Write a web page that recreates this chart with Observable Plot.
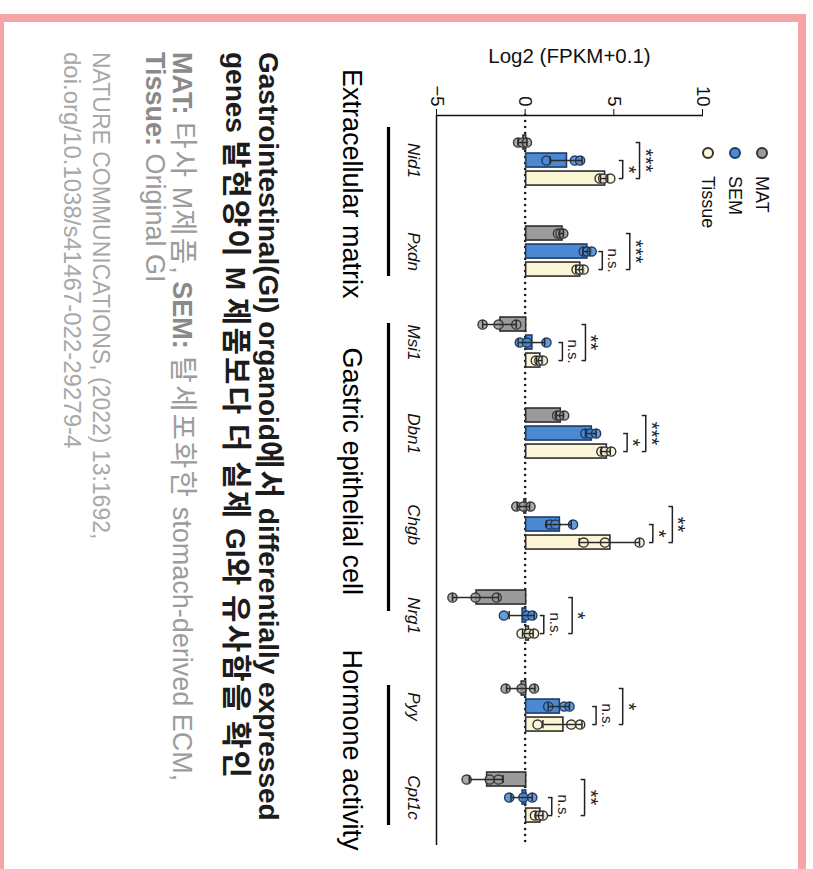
<!DOCTYPE html>
<html>
<head>
<meta charset="utf-8">
<script src="https://cdn.jsdelivr.net/npm/d3@7"></script>
<script src="https://cdn.jsdelivr.net/npm/@observablehq/plot@0.6"></script>
<style>
  html, body { margin: 0; padding: 0; background: #fff; }
  body { width: 813px; height: 869px; overflow: hidden; position: relative;
         font-family: "Liberation Sans", Arial, "Noto Sans CJK KR", sans-serif; }
  #border { position: absolute; left: -4px; top: 14px; width: 810px; height: 920px;
            box-sizing: border-box; border: 8px solid #f6a4a6; }
  #rot { position: absolute; left: 0; top: 0; width: 869px; height: 813px;
         transform-origin: 0 0; transform: translate(813px, 0) rotate(90deg); }
  #chart { position: absolute; left: 0; top: 0; }
  .lg { position: absolute; left: 147px; height: 20px; display: flex; align-items: center;
        font-size: 18px; color: #111; white-space: nowrap; }
  .sw { display: inline-block; width: 12px; height: 12px; border-radius: 50%;
        border: 2px solid #333; box-sizing: border-box; margin-right: 17px; }
  .line { position: absolute; left: 52px; white-space: nowrap; line-height: 1; }
  .t { font-size: 28px; font-weight: bold; color: #1c1c1c; }
  .t .k { font-size: 1.07em; letter-spacing: 2px; }
  .n { font-size: 27px; color: #9c9c9c; }
  .n .k { font-size: 1.07em; letter-spacing: 2px; }
  .n b { color: #8a8a8a; }
  .c { font-size: 23px; color: #a8a8a8; }
  .c2 { font-size: 24px; color: #a8a8a8; }
</style>
</head>
<body>
<div id="border"></div>
<div id="rot">
  <div id="chart"></div>
  <div class="lg" style="top:41px"><span class="sw" style="background:#9b9b9b"></span>MAT</div>
  <div class="lg" style="top:68px"><span class="sw" style="background:#4b89d2;border-color:#1f3b66"></span>SEM</div>
  <div class="lg" style="top:95px"><span class="sw" style="background:#fbf6d6"></span>Tissue</div>
  <div class="line t" style="top:529px">Gastrointestinal(GI) organoid<span class="k">에서</span> differentially expressed</div>
  <div class="line t" style="top:562px">genes <span class="k">발현양이</span> M <span class="k">제품보다</span> <span class="k">더</span> <span class="k">실제</span> GI<span class="k">와</span> <span class="k">유사함을</span> <span class="k">확인</span></div>
  <div class="line n" style="top:616px"><b>MAT:</b> <span class="k">타사</span> M<span class="k">제품</span>, <b>SEM:</b> <span class="k">탈세포화한</span> stomach-derived ECM,</div>
  <div class="line n" style="top:645px"><b>Tissue:</b> Original GI</div>
  <div class="line c" style="top:701px">NATURE COMMUNICATIONS, (2022) 13:1692,</div>
  <div class="line c2" style="top:729px">doi.org/10.1038/s41467-022-29279-4</div>
</div>
<script>
// ---- data ----
const genes = ["Nid1", "Pxdn", "Msi1", "Dbn1", "Chgb", "Nrg1", "Pyy", "Cpt1c"];
const groups = ["MAT", "SEM", "Tissue"];

const matMean = [-0.15, 2.05, -1.45, 1.95, -0.1, -2.8, -0.25, -2.2];
const matErr  = [0.25, 0.1, 0.95, 0.2, 0.35, 1.3, 0.8, 0.95];
const matDots = [[-0.4, -0.15, 0.1], [1.85, 2.0, 2.15], [-2.4, -1.5, -0.5], [1.8, 1.95, 2.2],
                 [-0.5, -0.1, 0.3], [-4.1, -2.8, -1.6], [-1.1, -0.2, 0.5], [-3.3, -2.0, -1.5]];

const semMean = [2.3, 3.45, 0.35, 3.7, 1.9, -0.2, 1.9, -0.2];
const semErr  = [0.9, 0.2, 0.75, 0.3, 0.7, 0.7, 0.6, 0.6];
const semDots = [[1.2, 2.8, 3.1], [3.3, 3.5, 3.75], [-0.3, 0.1, 1.2], [3.4, 3.7, 4.0],
                 [1.4, 1.7, 2.7], [-1.2, 0.1, 0.4], [1.3, 2.2, 2.5], [-0.9, -0.1, 0.4]];

const tisMean = [4.45, 3.05, 0.8, 4.55, 4.75, 0.15, 2.1, 0.8];
const tisErr  = [0.2, 0.2, 0.15, 0.25, 1.7, 0.3, 1.1, 0.2];
const tisDots = [[4.2, 4.4, 4.8], [2.9, 3.1, 3.3], [0.6, 0.8, 1.0], [4.3, 4.5, 4.85],
                 [3.3, 4.5, 6.45], [-0.2, 0.2, 0.5], [0.7, 2.6, 3.1], [0.55, 0.8, 1.0]];

// significance: inner = SEM vs Tissue, outer = MAT vs Tissue
const innerLabels = ["*", "n.s.", "n.s.", "*", "*", "n.s.", "n.s.", "n.s."];
const innerY      = [5.5, 4.35, 2.1, 5.75, 7.2, 1.05, 4.0, 1.5];
const outerLabels = ["***", "***", "**", "***", "**", "*", "*", "**"];
const outerY      = [6.45, 5.9, 3.4, 6.8, 8.3, 2.65, 5.5, 3.35];

const categoryNames = ["Extracellular matrix", "Gastric epithelial cell", "Hormone activity"];
const categoryGenes = [["Nid1", "Pxdn"], ["Msi1", "Dbn1", "Chgb", "Nrg1"], ["Pyy", "Cpt1c"]];

const yTicks = [-5, 0, 5, 10];

// ---- styles / layout ----
const fills = {MAT: "#9b9b9b", SEM: "#4b89d2", Tissue: "#fbf6d6"};
const strokes = {MAT: "#2e2e2e", SEM: "#1f3b66", Tissue: "#2e2e2e"};
const dotStrokes = {MAT: "#3a3a3a", SEM: "#1f3b66", Tissue: "#333"};
const off = {MAT: -0.198, SEM: 0, Tissue: 0.198};
const hw = 0.077, capW = 0.045, bracketCap = 0.25;
// category underline extents and label shifts (in gene-step units)
const catPadL = [0.363, 0.209, 0.231];
const catPadR = [0.275, -0.044, 0.308];
const catLabelShift = [-0.2, 0.04, -0.06];
const xDom = [-0.495, 7.527];
const yDom = [-5, 10];

const S = {
  MAT: {mean: matMean, err: matErr, dots: matDots},
  SEM: {mean: semMean, err: semErr, dots: semDots},
  Tissue: {mean: tisMean, err: tisErr, dots: tisDots}
};

const bars = groups.flatMap(g => genes.map((gene, i) => ({group: g, x: i + off[g], mean: S[g].mean[i], err: S[g].err[i]})));
const dots = groups.flatMap(g => genes.flatMap((gene, i) => S[g].dots[i].map(v => ({group: g, x: i + off[g], v}))));
const brackets = genes.flatMap((gene, i) => [
  {x1: i + off.SEM, x2: i + off.Tissue, y: innerY[i], label: innerLabels[i]},
  {x1: i + off.MAT, x2: i + off.Tissue, y: outerY[i], label: outerLabels[i]}
]);
const bracketEnds = brackets.flatMap(b => [{x: b.x1, y: b.y}, {x: b.x2, y: b.y}]);
const cats = categoryNames.map((name, k) => {
  const a = genes.indexOf(categoryGenes[k][0]);
  const b = genes.indexOf(categoryGenes[k][categoryGenes[k].length - 1]);
  const x1 = a - catPadL[k], x2 = b + catPadR[k];
  return {name, x1, x2, xl: (x1 + x2) / 2 + catLabelShift[k]};
});

const marks = [
  Plot.ruleY([0], {stroke: "#1a1a1a", strokeWidth: 2.6, strokeDasharray: "0 6", strokeLinecap: "round"})
];
for (const g of groups) {
  const B = bars.filter(d => d.group === g);
  marks.push(
    Plot.rectY(B, {x1: d => d.x - hw, x2: d => d.x + hw, y1: 0, y2: "mean",
      fill: fills[g], stroke: strokes[g], strokeWidth: 1.6})
  );
}
for (const g of groups) {
  const B = bars.filter(d => d.group === g);
  marks.push(
    Plot.dot(dots.filter(d => d.group === g), {x: "x", y: "v", r: 4.6, fill: fills[g],
      fillOpacity: 0.85, stroke: dotStrokes[g], strokeWidth: 1.4}),
    Plot.ruleX(B, {x: "x", y1: d => d.mean - d.err, y2: d => d.mean + d.err, stroke: "#2a2a2a", strokeWidth: 1.5}),
    Plot.ruleY(B, {x1: d => d.x - capW, x2: d => d.x + capW, y: d => d.mean + d.err, stroke: "#2a2a2a", strokeWidth: 1.5}),
    Plot.ruleY(B, {x1: d => d.x - capW, x2: d => d.x + capW, y: d => d.mean - d.err, stroke: "#2a2a2a", strokeWidth: 1.5})
  );
}
marks.push(
  Plot.ruleY(brackets, {x1: "x1", x2: "x2", y: "y", stroke: "#222", strokeWidth: 1.5}),
  Plot.ruleX(bracketEnds, {x: "x", y1: d => d.y - bracketCap, y2: "y", stroke: "#222", strokeWidth: 1.5}),
  Plot.text(brackets.filter(d => d.label !== "n.s."), {x: d => (d.x1 + d.x2) / 2, y: "y", text: "label",
    lineAnchor: "bottom", dy: 1, fontSize: 20, fill: "#222"}),
  Plot.text(brackets.filter(d => d.label === "n.s."), {x: d => (d.x1 + d.x2) / 2, y: "y", text: "label",
    lineAnchor: "bottom", dy: -6, fontSize: 15, fill: "#222"}),
  Plot.ruleX([xDom[0]], {y1: yDom[0], y2: yDom[1], stroke: "#111", strokeWidth: 1.5}),
  Plot.ruleY([yDom[0]], {stroke: "#111", strokeWidth: 1.5}),
  Plot.axisY({ticks: yTicks, tickSize: 6, tickPadding: 3, fontSize: 18.5,
    label: null, stroke: "#111"}),
  Plot.axisY({ticks: [], tickSize: 0, fontSize: 20.5,
    label: "Log2 (FPKM+0.1)", labelAnchor: "center", labelOffset: 67, labelArrow: "none"}),
  Plot.axisX({ticks: d3.range(genes.length), tickFormat: i => genes[i], tickSize: 0, tickPadding: 16,
    fontSize: 17, fontStyle: "italic", label: null}),
  Plot.ruleY(cats, {x1: "x1", x2: "x2", y: () => yDom[0], dy: 48, stroke: "#000", strokeWidth: 3.2}),
  Plot.text(cats, {x: "xl", y: () => yDom[0], dy: 85, text: "name", fontSize: 27,
    lineAnchor: "middle", fill: "#000"})
);

const chart = Plot.plot({
  width: 869,
  height: 486,
  marginLeft: 115,
  marginRight: 24,
  marginTop: 110,
  marginBottom: 110,
  style: {fontFamily: "'Liberation Sans', Arial, sans-serif", background: "transparent", color: "#111"},
  x: {domain: xDom},
  y: {domain: yDom},
  marks
});
document.getElementById("chart").appendChild(chart);
</script>
</body>
</html>
